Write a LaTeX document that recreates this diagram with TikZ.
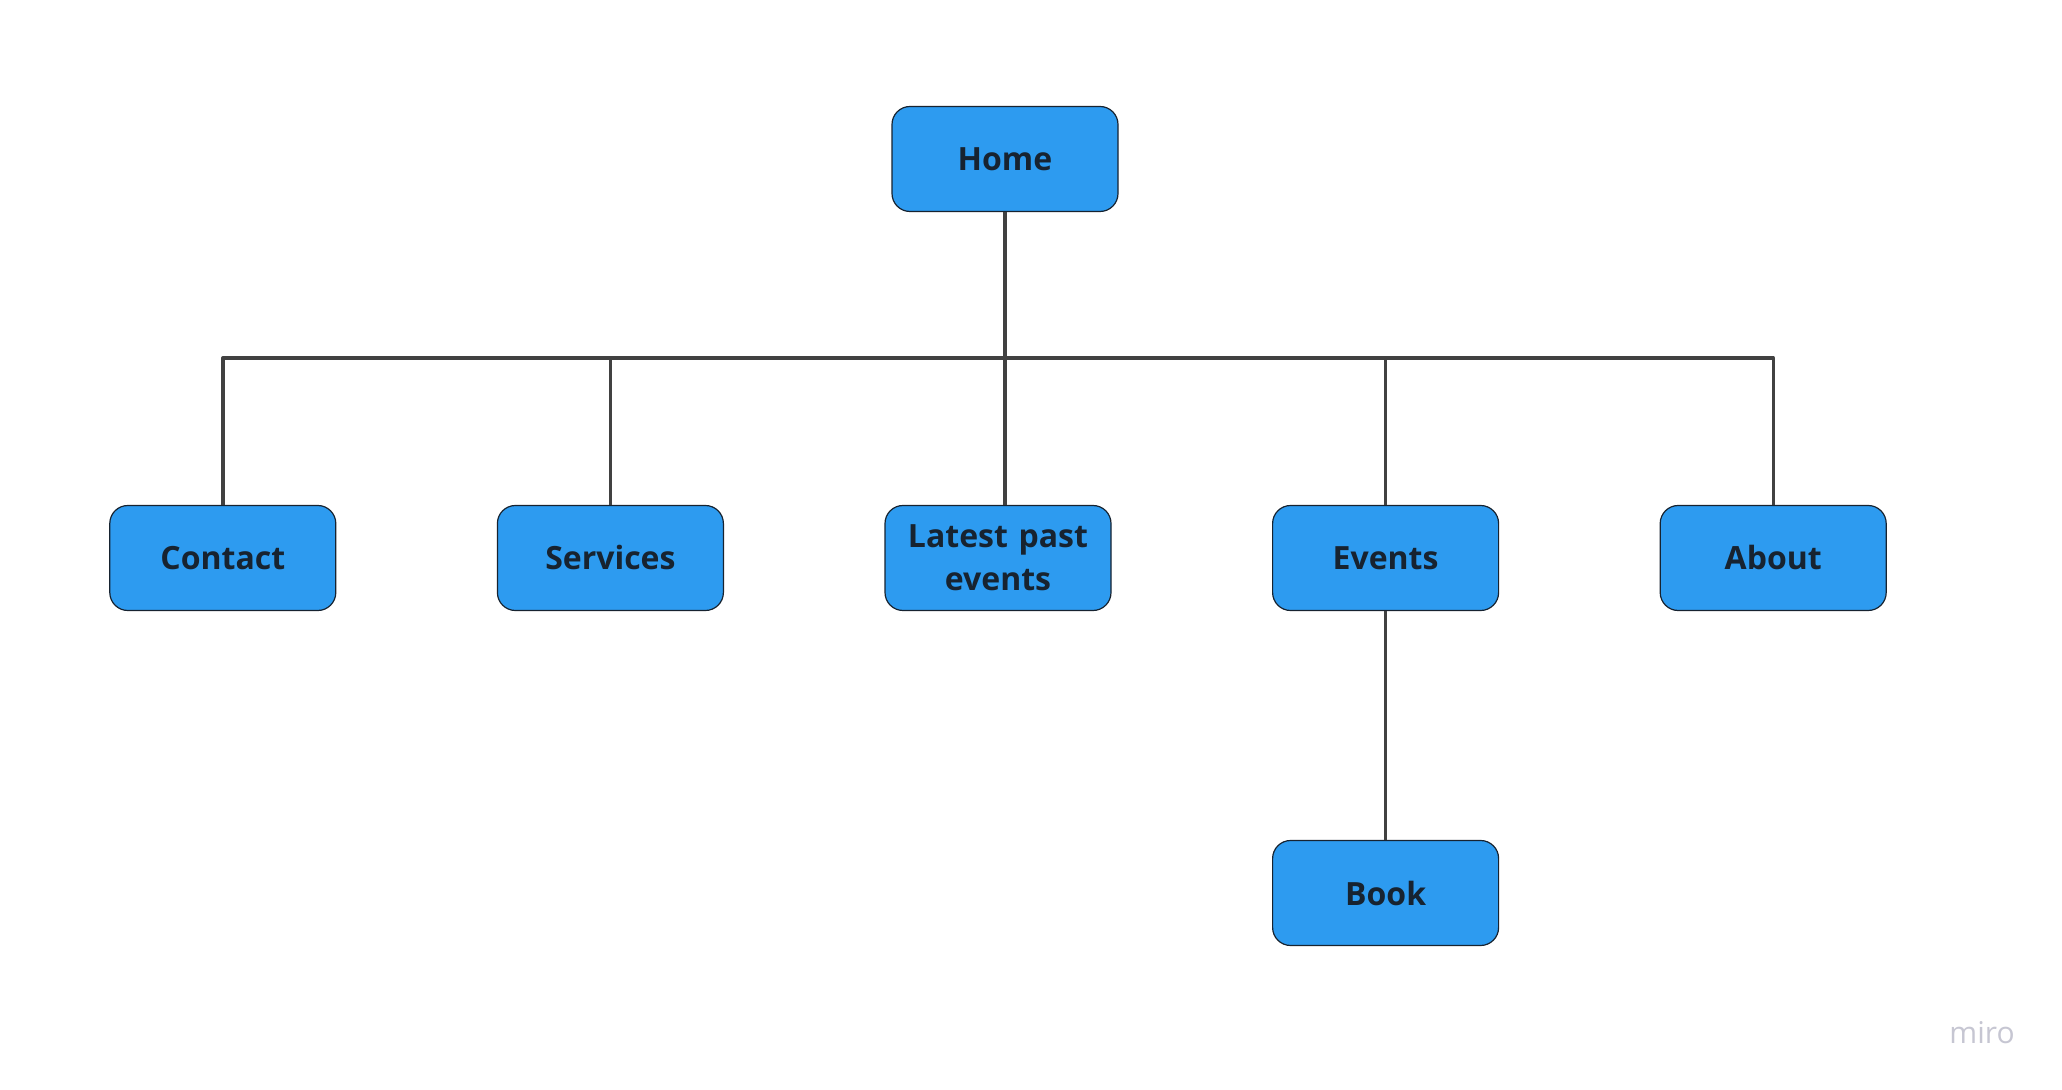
\documentclass[tikz,border=0pt]{standalone}
\usepackage{fontspec}
\setmainfont{Open Sans}
\usepackage{xcolor}
\usepackage{tikz}
\usetikzlibrary{shapes,arrows,positioning}

\definecolor{miroblue}{HTML}{2D9BF0}
\definecolor{inkdark}{HTML}{172330}
\definecolor{wirecol}{HTML}{414141}
\definecolor{markgray}{HTML}{C6C6D2}

\begin{document}
\begin{tikzpicture}[node distance=193.8pt, auto]
  \tikzstyle{block} = [rectangle, draw=inkdark, line width=0.6pt, fill=miroblue, text=inkdark, text width=99pt, inner xsep=7pt, text centered, rounded corners=9pt, minimum height=52.5pt, font=\bfseries\fontsize{16}{21.5}\selectfont]
  \tikzstyle{line} = [draw=wirecol, line width=1.7pt, line join=round]

  \useasboundingbox (0,0) rectangle (1031pt,-545pt);

  \node [block] (home) at (502.5pt,-79.5pt) {Home};
  \node [block, below of=home, node distance=199.5pt, xshift=-3.5pt] (latest) {Latest past\\events};
  \node [block, left of=latest] (services) {Services};
  \node [block, left of=services] (contact) {Contact};
  \node [block, right of=latest] (events) {Events};
  \node [block, right of=events] (about) {About};
  \node [block, below of=events, node distance=167.5pt] (book) {Book};
  \coordinate [below of=home, node distance=99.5pt] (bus);

  \path [line] (home) -- (bus);
  \path [line] (bus) -- (bus |- latest.north);
  \foreach \child in {contact,services,events,about}
    \path [line] (bus) -| (\child);
  \path [line] (events) -- (book);

  \node [text=markgray, font=\fontsize{15}{18}\selectfont] (watermark) at (991pt,-516.5pt) {miro};
\end{tikzpicture}
\end{document}
